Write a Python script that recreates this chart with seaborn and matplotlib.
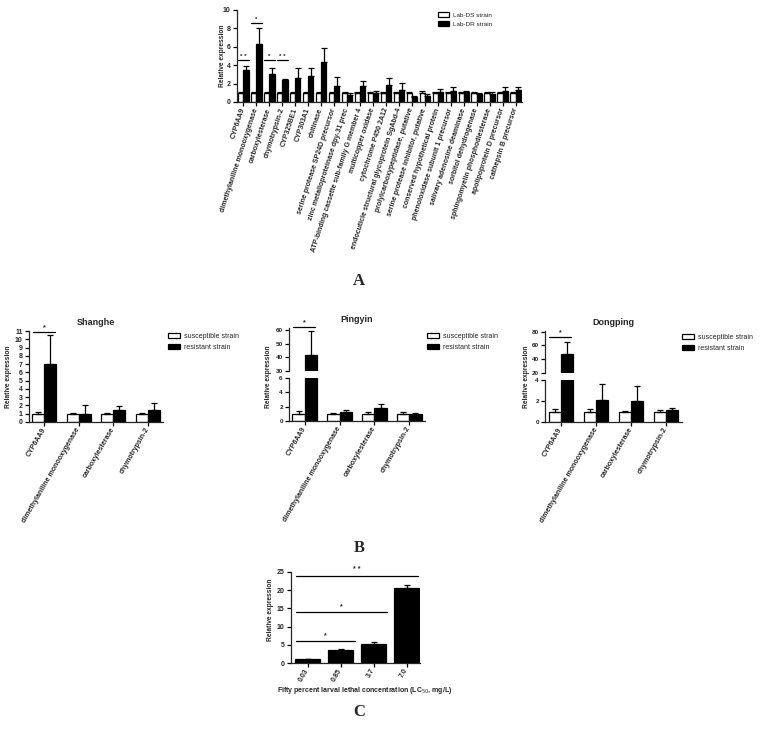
import matplotlib
matplotlib.use("Agg")
import matplotlib.pyplot as plt
import seaborn as sns
import pandas as pd
import numpy as np
from matplotlib.patches import Patch

sns.set_theme(style="ticks")
plt.rcParams['font.family'] = ['Liberation Sans', 'DejaVu Sans']
plt.rcParams['axes.linewidth'] = 0.9

# ---------------- data ----------------
genes_a = ["CYP6AA9", "dimethylaniline monooxygenase", "carboxylesterase", "chymotrypsin-2",
           "CYP325BE1", "CYP303A1", "chitinase", "serine protease SP24D precursor",
           "zinc metalloproteinase dpy-31 prec", "ATP-binding cassette sub-family G member 4",
           "multicopper oxidase", "cytochrome P450 2A12", "endocuticle structural glycoprotein SgAbd-4",
           "prolylcarboxypeptidase, putative", "serine protease inhibitor, putative",
           "conserved hypothetical protein", "phenoloxidase subunit 1 precursor",
           "salivary adenosine deaminase", "sorbitol dehydrogenase", "sphingomyelin phosphodiesterase",
           "apolipoprotein D precursor", "cathepsin B precursor"]
a_ds = [1.0, 1.0, 1.0, 1.0, 1.0, 1.0, 1.0, 1.0, 1.0, 1.0, 1.0,
        1.0, 1.0, 1.0, 1.0, 1.0, 1.0, 1.0, 1.0, 1.0, 1.0, 1.0]
a_ds_err = [0.1, 0.05, 0.1, 0.05, 0.05, 0.05, 0.05, 0.05, 0.05, 0.05, 0.1,
            0.05, 0.05, 0.1, 0.15, 0.1, 0.1, 0.1, 0.05, 0.1, 0.1, 0.05]
a_dr = [3.5, 6.3, 3.0, 2.4, 2.6, 2.8, 4.3, 1.7, 0.8, 1.75, 1.0,
        1.85, 1.3, 0.5, 0.65, 1.1, 1.2, 1.05, 0.9, 0.85, 1.25, 1.3]
a_dr_err = [0.4, 1.7, 0.65, 0.15, 1.1, 0.9, 1.6, 1.05, 0.15, 0.55, 0.15,
            0.75, 0.8, 0.2, 0.2, 0.3, 0.45, 0.15, 0.1, 0.2, 0.4, 0.3]
a_legend = ["Lab-DS strain", "Lab-DR strain"]

genes_b = ["CYP6AA9", "dimethylaniline monooxygenase", "carboxylesterase", "chymotrypsin-2"]
b_legend = ["susceptible strain", "resistant strain"]
sh_sus = [1.0, 1.0, 1.0, 1.0]
sh_sus_err = [0.15, 0.1, 0.1, 0.05]
sh_res = [7.0, 1.0, 1.45, 1.45]
sh_res_err = [3.5, 1.0, 0.45, 0.8]
py_sus = [1.0, 1.0, 1.0, 1.0]
py_sus_err = [0.4, 0.15, 0.3, 0.3]
py_res = [41.5, 1.3, 1.85, 1.0]
py_res_err = [18.0, 0.3, 0.5, 0.15]
dp_sus = [1.0, 1.0, 1.0, 1.0]
dp_sus_err = [0.2, 0.2, 0.05, 0.15]
dp_res = [47.0, 2.1, 2.0, 1.15]
dp_res_err = [18.0, 1.5, 1.4, 0.2]

conc_c = ["0.03", "0.85", "3.7", "7.0"]
c_vals = [1.0, 3.5, 5.1, 20.6]
c_err = [0.1, 0.4, 0.7, 0.7]

# ---------------- helpers ----------------
W, H = 762, 733
fig = plt.figure(figsize=(W / 100, H / 100), dpi=100)


def fax(x0, y0, x1, y1):
    """axes from pixel box (x0 left, y0 top, x1 right, y1 bottom)"""
    return fig.add_axes([x0 / W, 1 - y1 / H, (x1 - x0) / W, (y1 - y0) / H])


def pair_bars(ax, cats, v1, v2, e1, e2, names, width=0.8):
    df = pd.DataFrame({"gene": cats * 2, "value": v1 + v2,
                       "strain": [names[0]] * len(cats) + [names[1]] * len(cats)})
    sns.barplot(data=df, x="gene", y="value", hue="strain", hue_order=names,
                palette={names[0]: "white", names[1]: "black"}, saturation=1,
                edgecolor="black", linewidth=0.9, errorbar=None, width=width,
                legend=False, ax=ax)
    for cont, err in zip(ax.containers, [e1, e2]):
        xs = [b.get_x() + b.get_width() / 2 for b in cont]
        hs = [b.get_height() for b in cont]
        ax.errorbar(xs, hs, yerr=[np.zeros(len(err)), err], fmt="none",
                    ecolor="black", elinewidth=0.9, capsize=2, capthick=0.9)


def style(ax, fs=5):
    sns.despine(ax=ax)
    ax.tick_params(axis="both", labelsize=fs, width=0.9, length=3, pad=1.5, color="black")
    for t in ax.get_yticklabels() + ax.get_xticklabels():
        t.set_fontweight("bold")
    ax.set_xlabel("")
    ax.set_ylabel("")
    ax.set_facecolor("white")


def set_xlabels(ax, labels, rot, fs=5):
    ax.set_xticks(range(len(labels)))
    ax.set_xticklabels(labels, rotation=rot, ha="right", rotation_mode="anchor",
                       va="center", fontsize=fs, fontweight="bold")


def legend(ax, names, x, y, fs=5):
    handles = [Patch(facecolor="white", edgecolor="black", linewidth=0.9),
               Patch(facecolor="black", edgecolor="black", linewidth=0.9)]
    ax.legend(handles, names, loc="upper left", bbox_to_anchor=(x / W, 1 - y / H),
              bbox_transform=fig.transFigure, frameon=False, fontsize=fs,
              handlelength=1.7, handleheight=0.8, handletextpad=0.6,
              labelspacing=0.55, borderpad=0, borderaxespad=0)


def sig(ax, x0, x1, y, txt, dy, fs=5):
    ax.plot([x0, x1], [y, y], color="black", lw=0.9, clip_on=False)
    ax.text((x0 + x1) / 2, y + dy, txt, ha="center", va="bottom", fontsize=fs,
            fontweight="bold", clip_on=False)


def ylab(x, y, fs=4.8):
    fig.text(x / W, 1 - y / H, "Relative expression", rotation=90, ha="center",
             va="center", fontsize=fs, fontweight="bold")


# ---------------- Panel A ----------------
axA = fax(237, 10, 522, 102)
pair_bars(axA, genes_a, a_ds, a_dr, a_ds_err, a_dr_err, a_legend)
axA.set_ylim(0, 10)
axA.set_yticks([0, 2, 4, 6, 8, 10])
axA.set_xlim(-0.5, 21.5)
style(axA)
set_xlabels(axA, genes_a, 72)
legend(axA, a_legend, 438, 12, fs=4.6)
sig(axA, -0.45, 0.45, 4.6, "* *", 0.05, fs=4.5)
sig(axA, 0.55, 1.45, 8.6, "*", 0.05, fs=4.5)
sig(axA, 1.55, 2.45, 4.6, "*", 0.05, fs=4.5)
sig(axA, 2.55, 3.45, 4.6, "* *", 0.05, fs=4.5)
ylab(222, 56)
fig.text(359 / W, 1 - 281 / H, "A", ha="center", va="center", fontsize=12,
         fontweight="bold", family="Liberation Serif")

# ---------------- Panel B: Shanghe ----------------
axS = fax(29, 331, 163, 422)
pair_bars(axS, genes_b, sh_sus, sh_res, sh_sus_err, sh_res_err, b_legend, width=0.7)
axS.set_ylim(0, 11)
axS.set_yticks(range(0, 12))
axS.set_xlim(-0.45, 3.45)
style(axS)
set_xlabels(axS, genes_b, 60)
axS.set_title("Shanghe", fontsize=6.5, fontweight="bold", pad=4)
legend(axS, b_legend, 168, 333)
sig(axS, -0.33, 0.3, 10.9, "*", 0.1)
ylab(9, 377)


# ---------------- Panel B: broken-axis panels ----------------
def broken(x0, x1, ytop, ybrk_hi, ybrk_lo, ybot, sus, res, se, re, lo_lim, lo_ticks,
           hi_lim, hi_ticks, title, leg_x, leg_y, sig_y, sig_dy, tfs=4.6):
    axL = fax(x0, ybrk_lo, x1, ybot)
    axH = fax(x0, ytop, x1, ybrk_hi)
    for ax in (axL, axH):
        pair_bars(ax, genes_b, sus, res, se, re, b_legend, width=0.7)
        ax.set_xlim(-0.45, 3.45)
    axL.set_ylim(*lo_lim)
    axL.set_yticks(lo_ticks)
    axH.set_ylim(*hi_lim)
    axH.set_yticks(hi_ticks)
    style(axL, fs=tfs)
    style(axH, fs=tfs)
    set_xlabels(axL, genes_b, 60)
    axH.spines["bottom"].set_visible(False)
    axH.set_xticks([])
    axH.set_title(title, fontsize=6.5, fontweight="bold", pad=4)
    legend(axH, b_legend, leg_x, leg_y)
    sig(axH, -0.33, 0.3, sig_y, "*", sig_dy)
    return axL, axH


broken(289, 425, 328, 371, 378, 421, py_sus, py_res, py_sus_err, py_res_err,
       (0, 6), [0, 2, 4, 6], (30, 61.5), [30, 40, 50, 60], "Pingyin", 427, 333, 62, 0.8)
ylab(269, 377)
broken(545, 682, 331, 373, 380, 422, dp_sus, dp_res, dp_sus_err, dp_res_err,
       (0, 4), [0, 2, 4], (20, 81), [20, 40, 60, 80], "Dongping", 682, 334, 72, 1.5)
ylab(526, 377)

fig.text(359 / W, 1 - 548 / H, "B", ha="center", va="center", fontsize=12,
         fontweight="bold", family="Liberation Serif")

# ---------------- Panel C ----------------
axC = fax(291, 572, 420, 663)
dfc = pd.DataFrame({"conc": conc_c, "value": c_vals})
sns.barplot(data=dfc, x="conc", y="value", color="black", saturation=1,
            edgecolor="black", linewidth=0.9, errorbar=None, width=0.75, ax=axC)
cont = axC.containers[0]
axC.errorbar([b.get_x() + b.get_width() / 2 for b in cont], [b.get_height() for b in cont],
             yerr=[np.zeros(len(c_err)), c_err], fmt="none", ecolor="black",
             elinewidth=0.9, capsize=2, capthick=0.9)
axC.set_ylim(0, 25)
axC.set_yticks([0, 5, 10, 15, 20, 25])
axC.set_xlim(-0.5, 3.4)
style(axC)
set_xlabels(axC, conc_c, 60)
sig(axC, -0.35, 3.33, 24.0, "* *", 0.6)
sig(axC, -0.35, 2.4, 13.9, "*", 0.6)
sig(axC, -0.35, 1.42, 6.0, "*", 0.6)
ylab(270, 610)
fig.text(365 / W, 1 - 691 / H, "Fifty percent larval lethal concentration (LC$_{50}$, mg/L)",
         ha="center", va="center", fontsize=5, fontweight="bold")
fig.text(359 / W, 1 - 712 / H, "C", ha="center", va="center", fontsize=12,
         fontweight="bold", family="Liberation Serif")

fig.savefig("out.png", dpi=100, facecolor="white")
